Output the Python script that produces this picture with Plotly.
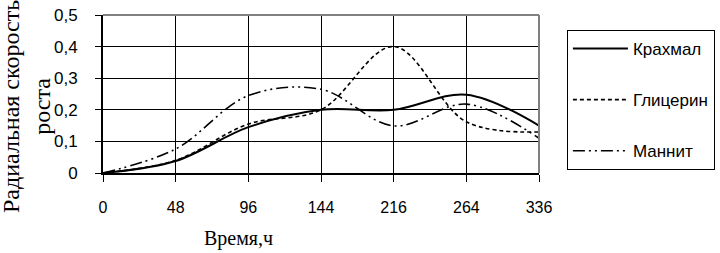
import plotly.graph_objects as go

categories = ["0", "48", "96", "144", "216", "264", "336"]
krakhmal = [0, 0.038, 0.145, 0.2, 0.2, 0.248, 0.15]
glitserin = [0, 0.04, 0.155, 0.2, 0.4, 0.162, 0.13]
mannit = [0, 0.076, 0.245, 0.265, 0.149, 0.218, 0.11]
y_ticks = [0, 0.1, 0.2, 0.3, 0.4, 0.5]
y_ticktext = ["0", "0,1", "0,2", "0,3", "0,4", "0,5"]

xs = list(range(len(categories)))

fig = go.Figure()
series = [
    ("Крахмал", krakhmal, "solid", 2),
    ("Глицерин", glitserin, "4px,3px", 1.6),
    ("Маннит", mannit, "12px,4px,2px,4px,2px,4px", 1.6),
]
for i, (name, vals, dash, w) in enumerate(series):
    fig.add_trace(go.Scatter(
        x=xs, y=vals, name=name, mode="lines",
        line=dict(color="black", width=w, dash=dash, shape="spline", smoothing=1),
        legendgroup=name,
    ))

fig.update_layout(
    width=720, height=253,
    margin=dict(l=103, r=181, t=15, b=80, autoexpand=False),
    paper_bgcolor="white", plot_bgcolor="white",
    font=dict(family="Liberation Sans, Arial", size=17, color="black"),
    showlegend=True,
    legend=dict(
        x=1.064, y=(173 - 30) / 158, xanchor="left", yanchor="top",
        bordercolor="black", borderwidth=1, bgcolor="white",
        traceorder="grouped", tracegroupgap=26, itemwidth=55,
        font=dict(family="Liberation Sans, Arial", size=17, color="black"),
    ),
    xaxis=dict(
        range=[0, 6], tickvals=xs, ticktext=categories,
        showgrid=True, gridcolor="black", gridwidth=1,
        showline=True, linecolor="black", linewidth=2,
        ticks="outside", ticklen=7, tickcolor="black", tickwidth=1,
        ticklabelstandoff=12, zeroline=False,
        tickfont=dict(family="Liberation Sans, Arial", size=16),
    ),
    yaxis=dict(
        range=[0, 0.5], tickvals=y_ticks, ticktext=y_ticktext,
        showgrid=True, gridcolor="black", gridwidth=1,
        showline=True, linecolor="black", linewidth=2,
        ticks="outside", ticklen=6, tickcolor="black", tickwidth=1,
        ticklabelstandoff=14, zeroline=False,
        tickfont=dict(family="Liberation Sans, Arial", size=17),
    ),
    shapes=[
        dict(type="line", xref="paper", yref="paper", x0=0, x1=1, y0=1, y1=1,
             line=dict(color="#808080", width=2), layer="above"),
        dict(type="line", xref="paper", yref="paper", x0=1, x1=1, y0=0, y1=1,
             line=dict(color="#808080", width=2), layer="above"),
    ],
    annotations=[
        dict(text="Время,ч", xref="paper", yref="paper",
             x=(238 - 103) / 436, y=(173 - 238) / 158, xanchor="center", yanchor="middle",
             showarrow=False, font=dict(family="Liberation Serif, Times New Roman", size=20)),
        dict(text="Радиальная скорость<br>роста", xref="paper", yref="paper",
             x=(26 - 103) / 436, y=(173 - 107) / 158, xanchor="center", yanchor="middle",
             textangle=-90, showarrow=False,
             font=dict(family="Liberation Serif, Times New Roman", size=24)),
    ],
)

fig.write_html("out.html")
